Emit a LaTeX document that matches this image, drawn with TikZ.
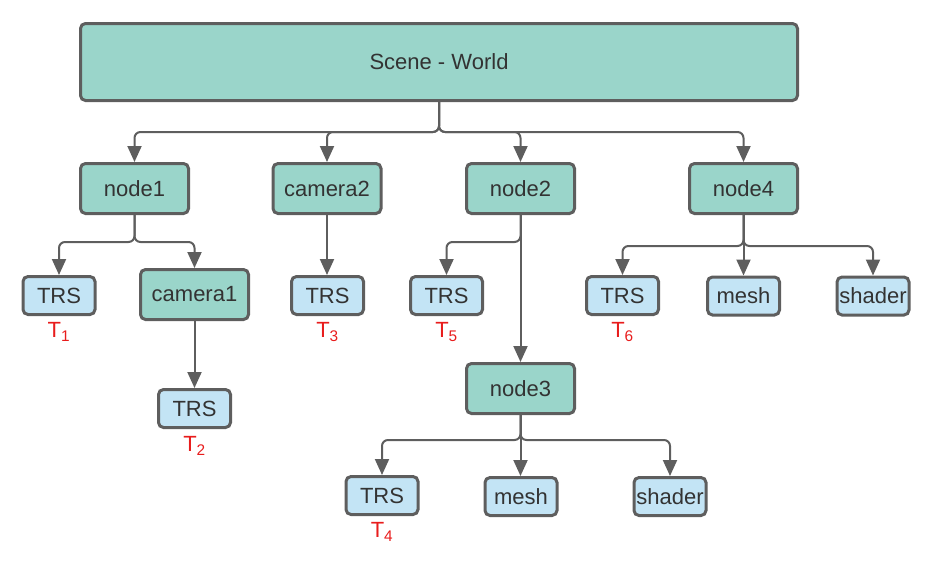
\documentclass[tikz,border=0pt]{standalone}
\usepackage{fontspec}
\setmainfont{Liberation Sans}
\usetikzlibrary{arrows.meta}
\definecolor{teal1}{HTML}{9AD5CA}
\definecolor{blue1}{HTML}{C3E4F5}
\definecolor{edge1}{HTML}{5E5E5E}
\definecolor{red1}{HTML}{E81C1C}
\begin{document}
\begin{tikzpicture}[x=1pt,y=-1pt,
  box/.style={draw=edge1,line width=3pt,rounded corners=5pt,inner sep=0pt,
    font=\fontsize{22}{26}\selectfont,text=black!80},
  green/.style={box,fill=teal1,minimum width=108pt,minimum height=50pt},
  blue/.style={box,fill=blue1,minimum width=72pt,minimum height=38pt},
  conn/.style={draw=edge1,line width=2pt,rounded corners=6pt,
    -{Triangle[length=16pt,width=14pt]}},
  tlab/.style={text=red1,font=\fontsize{22}{26}\selectfont,inner sep=0pt}]
\useasboundingbox (0,0) rectangle (931,581);
\node[box,fill=teal1,minimum width=717pt,minimum height=77pt] (scene) at (439,62) {Scene - World};
\node[green] (node1) at (134.5,188.5) {node1};
\node[green] (camera2) at (327,188.5) {camera2};
\node[green] (node2) at (520.5,188.5) {node2};
\node[green] (node4) at (743.5,188.5) {node4};
\node[green] (camera1) at (194.5,294.5) {camera1};
\node[green] (node3) at (520.5,388.5) {node3};
\node[blue] (trs1) at (59,295.5) {TRS};
\node[blue] (trs2) at (194.5,408.5) {TRS};
\node[blue] (trs3) at (327.5,295.5) {TRS};
\node[blue] (trs5) at (446.5,295.5) {TRS};
\node[blue] (trs6) at (622.5,295.5) {TRS};
\node[blue] (mesh4) at (743.5,296) {mesh};
\node[blue] (shader4) at (873,296) {shader};
\node[blue] (trs4) at (382,495.5) {TRS};
\node[blue] (mesh3) at (521,496.5) {mesh};
\node[blue] (shader3) at (670,496.5) {shader};
\node[tlab] (t1) at (59,332) {T\textsubscript{1}};
\node[tlab] (t2) at (194.5,446) {T\textsubscript{2}};
\node[tlab] (t3) at (327.5,332) {T\textsubscript{3}};
\node[tlab] (t5) at (446.5,332) {T\textsubscript{5}};
\node[tlab] (t6) at (622.5,332) {T\textsubscript{6}};
\node[tlab] (t4) at (382,532) {T\textsubscript{4}};
\coordinate (b0) at (439,132);
\coordinate (b1) at (134.5,242);
\coordinate (b2) at (520.5,242);
\coordinate (b4) at (743.5,246);
\coordinate (b3) at (520.5,440);
\draw[conn] (scene.south) -- (b0) -| (node1.north);
\draw[conn] (scene.south) -- (b0) -| (camera2.north);
\draw[conn] (scene.south) -- (b0) -| (node2.north);
\draw[conn] (scene.south) -- (b0) -| (node4.north);
\draw[conn] (node1.south) -- (b1) -| (trs1.north);
\draw[conn] (node1.south) -- (b1) -| (camera1.north);
\draw[conn] (camera1.south) -- (trs2.north);
\draw[conn] (camera2.south) -- (trs3.north -| camera2.south);
\draw[conn] (node2.south) -- (b2) -| (trs5.north);
\draw[conn] (node2.south) -- (node3.north);
\draw[conn] (node4.south) -- (b4) -| (trs6.north);
\draw[conn] (node4.south) -- (mesh4.north);
\draw[conn] (node4.south) -- (b4) -| (shader4.north);
\draw[conn] (node3.south) -- (b3) -| (trs4.north);
\draw[conn] (node3.south) -- (mesh3.north -| node3.south);
\draw[conn] (node3.south) -- (b3) -| (shader3.north);
\end{tikzpicture}
\end{document}
